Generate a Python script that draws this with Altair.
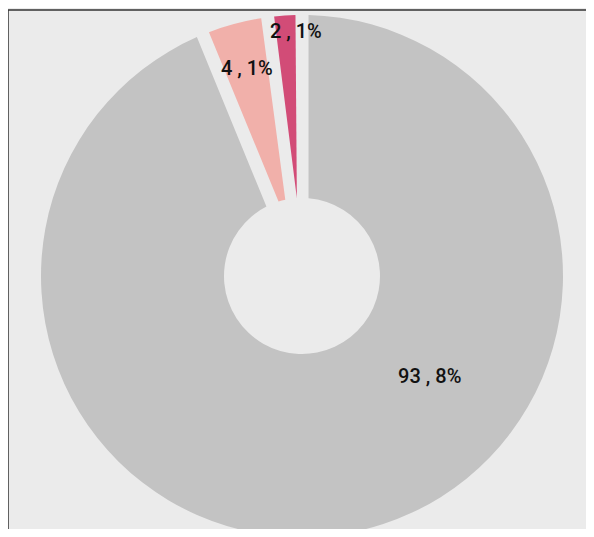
import altair as alt
import pandas as pd

categories = ["A", "B", "C"]
values = [93.8, 4.1, 2.1]
labels = ["93 , 8%", "4 , 1%", "2 , 1%"]
colors = ["#c3c3c3", "#f1b0aa", "#d24c77"]
order = [0, 1, 2]

df = pd.DataFrame({"cat": categories, "value": values, "label": labels, "idx": order})

W, H = 578, 519
CX, CY = 294, 266
theta_scale = alt.Scale(domain=[0, 100])

arcs = alt.Chart(df).mark_arc(innerRadius=78, outerRadius=261, padAngle=0.048).encode(
    theta=alt.Theta("value:Q", stack=True, scale=theta_scale),
    order=alt.Order("idx:Q"),
    color=alt.Color("cat:N", scale=alt.Scale(domain=categories, range=colors), legend=None),
    x=alt.value(CX),
    y=alt.value(CY),
)


def label_layer(cat, radius, dx=0, dy=0):
    return (
        alt.Chart(df)
        .transform_stack(stack="value", as_=["v0", "v1"], groupby=[], sort=[alt.SortField("idx")])
        .transform_calculate(mid="(datum.v0 + datum.v1) / 2")
        .transform_filter(alt.datum.cat == cat)
        .mark_text(radius=radius, dx=dx, dy=dy, font="Roboto", fontSize=20, fontWeight=500,
                   color="#111111", align="center", baseline="middle")
        .encode(
            theta=alt.Theta("mid:Q", scale=theta_scale),
            text="label:N",
            x=alt.value(CX),
            y=alt.value(CY),
        )
    )


t1 = label_layer("A", 164, dx=96, dy=-60)
t2 = label_layer("B", 214)
t3 = label_layer("C", 245, dx=10)

frame_data = alt.Data(values=[{}])
top_rule = alt.Chart(frame_data).mark_rule(color="#333333", strokeWidth=1.5).encode(
    x=alt.value(0), x2=alt.value(W), y=alt.value(0)
)
left_rule = alt.Chart(frame_data).mark_rule(color="#333333", strokeWidth=1.5).encode(
    x=alt.value(0), y=alt.value(0), y2=alt.value(H)
)

chart = (
    alt.layer(arcs, t1, t2, t3, top_rule, left_rule)
    .properties(
        width=W,
        height=H,
        padding={"left": 0, "top": 2, "right": 0, "bottom": 0},
        autosize="none",
        background="#ebebeb",
    )
    .configure_view(strokeWidth=0)
)

chart.save("out.html", embed_options={"renderer": "svg", "actions": False})
